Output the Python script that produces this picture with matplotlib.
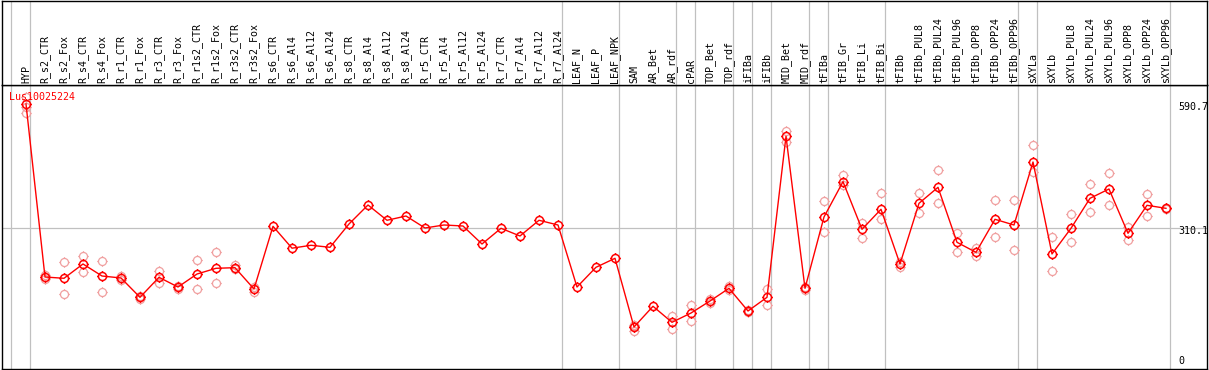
"""Expression profile of Lus10025224 across tissues/treatments (eFP-style strip chart)."""

import matplotlib
matplotlib.use("Agg")
import matplotlib.pyplot as plt
from matplotlib.path import Path
import numpy as np

# ── Data ─────────────────────────────────────────────────────────────────────
SAMPLES = [
    "HYP", "R_s2_CTR", "R_s2_Fox", "R_s4_CTR", "R_s4_Fox", "R_r1_CTR", "R_r1_Fox",
    "R_r3_CTR", "R_r3_Fox", "R_r1s2_CTR", "R_r1s2_Fox", "R_r3s2_CTR", "R_r3s2_Fox",
    "R_s6_CTR", "R_s6_Al4", "R_s6_Al12", "R_s6_Al24", "R_s8_CTR", "R_s8_Al4",
    "R_s8_Al12", "R_s8_Al24", "R_r5_CTR", "R_r5_Al4", "R_r5_Al12", "R_r5_Al24",
    "R_r7_CTR", "R_r7_Al4", "R_r7_Al12", "R_r7_Al24", "LEAF_N", "LEAF_P", "LEAF_NPK",
    "SAM", "AR_Bet", "AR_rdf", "cPAR", "TOP_Bet", "TOP_rdf", "iFIBa", "iFIBb",
    "MID_Bet", "MID_rdf", "tFIBa", "tFIB_Gr", "tFIB_Li", "tFIB_Bi", "tFIBb",
    "tFIBb_PUL8", "tFIBb_PUL24", "tFIBb_PUL96", "tFIBb_OPP8", "tFIBb_OPP24",
    "tFIBb_OPP96", "sXYLa", "sXYLb", "sXYLb_PUL8", "sXYLb_PUL24", "sXYLb_PUL96",
    "sXYLb_OPP8", "sXYLb_OPP24", "sXYLb_OPP96",
]

MEAN_EXPR = [
    590.7, 197.6, 194.7, 227.2, 199.9, 195.4, 151.5,
    196.9, 174.9, 204.4, 217.4, 218.8, 170.4,
    312.8, 263.1, 269.7, 265.1, 318.1, 361.2,
    326.5, 336.2, 309.0, 315.8, 313.5, 272.6,
    308.3, 290.8, 326.5, 315.8, 174.9, 219.7, 240.1,
    84.0, 131.1, 94.7, 115.8, 143.1, 171.9, 120.4, 151.5,
    517.3, 171.9, 334.0, 414.2, 306.0, 351.5, 227.2,
    365.1, 401.4, 276.5, 253.7, 328.7,
    315.8, 458.9, 250.0, 308.3, 376.4, 397.6,
    296.9, 360.5, 353.7,
]

# replicate values per sample (empty where replicates coincide with the mean)
REPLICATES = {
    "HYP": [606.0, 584.6, 569.6],
    "R_s2_CTR": [202.2, 192.4],
    "R_s2_Fox": [231.0, 159.0],
    "R_s4_CTR": [245.3, 208.3],
    "R_s4_Fox": [233.3, 163.5],
    "R_r1_CTR": [199.9, 190.8],
    "R_r1_Fox": [154.5, 148.3],
    "R_r3_CTR": [211.3, 183.3],
    "R_r3_Fox": [177.9, 169.7],
    "R_r1s2_CTR": [235.6, 169.7],
    "R_r1s2_Fox": [253.7, 184.0],
    "R_r3s2_CTR": [224.2, 215.1],
    "R_r3s2_Fox": [175.6, 162.9],
    "SAM": [76.0, 86.5, 89.5],
    "AR_rdf": [109.0, 80.1],
    "cPAR": [133.3, 97.0],
    "TOP_Bet": [148.3, 137.9],
    "TOP_rdf": [177.2, 167.0],
    "iFIBa": [122.6, 118.1],
    "iFIBb": [169.7, 133.3],
    "MID_Bet": [529.4, 505.1],
    "MID_rdf": [175.6, 168.1],
    "tFIBa": [369.6, 300.6],
    "tFIB_Gr": [428.7, 406.0],
    "tFIB_Li": [321.0, 286.9],
    "tFIB_Bi": [387.8, 329.4],
    "tFIBb": [232.4, 221.0],
    "tFIBb_PUL8": [387.8, 342.4],
    "tFIBb_PUL24": [440.8, 365.1],
    "tFIBb_PUL96": [296.9, 255.1],
    "tFIBb_OPP8": [264.2, 246.0],
    "tFIBb_OPP24": [372.6, 287.8],
    "tFIBb_OPP96": [372.6, 258.3],
    "sXYLa": [496.9, 436.9],
    "sXYLb": [287.8, 211.3],
    "sXYLb_PUL8": [340.1, 276.5],
    "sXYLb_PUL24": [408.3, 344.6],
    "sXYLb_PUL96": [433.3, 360.5],
    "sXYLb_OPP8": [311.9, 281.0],
    "sXYLb_OPP24": [385.5, 336.2],
    "sXYLb_OPP96": [355.1, 351.5],
}

# group boundaries (index of first sample after a separator)
GROUP_BREAKS = [0, 1, 29, 32, 35, 36, 38, 39, 40, 42, 43, 46, 53, 54, 61]

GENE_ID = "Lus10025224"
MAX_LABEL = "590.7"
MID_VALUE = 310.1

# ── Style ────────────────────────────────────────────────────────────────────
_MAIN_COLOR = "#ff0000"
_REP_COLOR = "#f0a0a0"
_GRID_COLOR = "#c0c0c0"
_FONT = "DejaVu Sans Mono"
_FS = 7.2

W, H = 1209, 370
PLOT_TOP, PLOT_BOTTOM = 85, 369
LEFT, RIGHT = 2, 1207


def _ring_marker() -> Path:
    """Open circle with four short ticks outside, like the original pixel glyph."""
    ticks = [((1.0, 0), (1.3, 0)), ((-1.0, 0), (-1.3, 0)),
             ((0, 1.0), (0, 1.3)), ((0, -1.0), (0, -1.3))]
    parts = [Path.unit_circle()]
    for a, b in ticks:
        parts.append(Path([a, b], [Path.MOVETO, Path.LINETO]))
    return Path.make_compound_path(*parts)


RING = _ring_marker()

x_pos = np.arange(len(SAMPLES))
# x mapping: sample i sits 15 px into a 19 px wide cell
x_lo = (LEFT - 26) / 19
x_hi = (RIGHT - 26) / 19
# y mapping: 590.7 at y=104 px, 310.1 at y=227.5 px
px_per_unit = (227.5 - 104) / (590.7 - 310.1)
y_lo = MID_VALUE - (PLOT_BOTTOM - 227.5) / px_per_unit
y_hi = MID_VALUE + (227.5 - PLOT_TOP) / px_per_unit

fig = plt.figure(figsize=(W / 100, H / 100), dpi=100)
fig.patch.set_facecolor("white")

ax = fig.add_axes([LEFT / W, 1 - PLOT_BOTTOM / H, (RIGHT - LEFT) / W,
                   (PLOT_BOTTOM - PLOT_TOP) / H])
hdr = fig.add_axes([LEFT / W, 1 - PLOT_TOP / H, (RIGHT - LEFT) / W,
                    (PLOT_TOP - 0.5) / H])

for a in (ax, hdr):
    a.set_xlim(x_lo, x_hi)
    a.set_xticks([])
    a.set_yticks([])
    for sp in a.spines.values():
        sp.set_color("black")
        sp.set_linewidth(1.0)
    for k in GROUP_BREAKS:
        a.axvline(k - 15 / 19, color=_GRID_COLOR, linewidth=0.9, zorder=1)

ax.set_ylim(y_lo, y_hi)
hdr.set_ylim(0, 1)

ax.axhline(MID_VALUE, color=_GRID_COLOR, linewidth=0.9, zorder=1)

# replicate points
for i, name in enumerate(SAMPLES):
    reps = REPLICATES.get(name, [])
    if reps:
        ax.plot([i] * len(reps), reps, linestyle="none", marker=RING,
                markersize=7.5, markerfacecolor="none",
                markeredgecolor=_REP_COLOR, markeredgewidth=0.9, zorder=2)

# mean profile
ax.plot(x_pos, MEAN_EXPR, color=_MAIN_COLOR, linewidth=1.0, zorder=3)
ax.plot(x_pos, MEAN_EXPR, linestyle="none", marker=RING, markersize=7.5,
        markerfacecolor="none", markeredgecolor=_MAIN_COLOR,
        markeredgewidth=1.1, zorder=4)

# sample labels in the header strip
for i, name in enumerate(SAMPLES):
    hdr.text(i, 2.5 / PLOT_TOP, name, rotation=90, ha="center", va="bottom",
             fontsize=_FS, family=_FONT, color="black")

# gene id and value labels
ax.text((9 - LEFT) / (RIGHT - LEFT), (PLOT_BOTTOM - 96.7) / (PLOT_BOTTOM - PLOT_TOP),
        GENE_ID, transform=ax.transAxes, ha="left", va="center",
        fontsize=_FS, family=_FONT, color=_MAIN_COLOR, zorder=5)

for lbl, ypix in [(MAX_LABEL, 106.7), (f"{MID_VALUE:.1f}", 231.0), ("0", 361.0)]:
    ax.text((1178 - LEFT) / (RIGHT - LEFT), (PLOT_BOTTOM - ypix) / (PLOT_BOTTOM - PLOT_TOP),
            lbl, transform=ax.transAxes, ha="left", va="center",
            fontsize=_FS, family=_FONT, color="black", zorder=5)

fig.savefig("out.png", dpi=100)
plt.close(fig)
